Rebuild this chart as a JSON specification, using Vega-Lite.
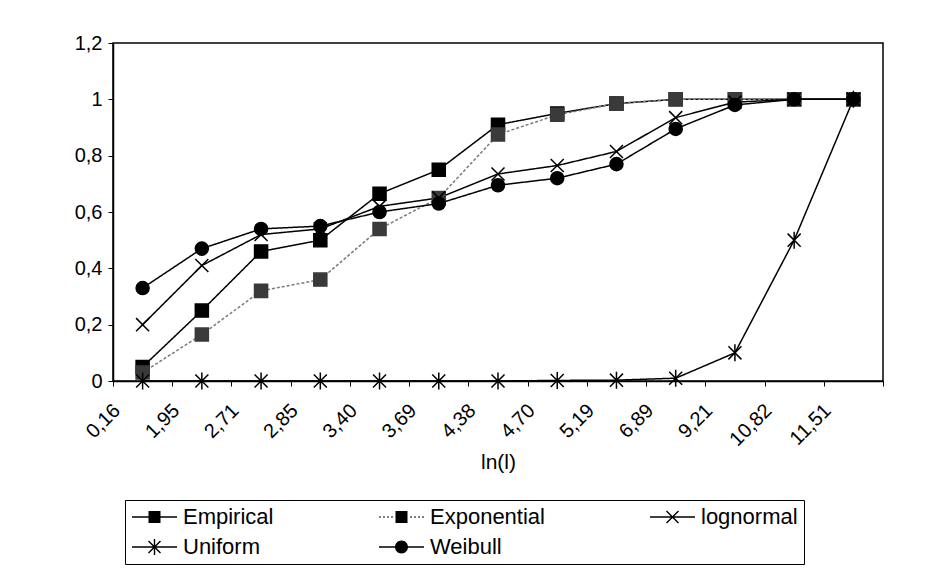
{
  "$schema": "https://vega.github.io/schema/vega-lite/v6.json",
  "width": 770,
  "height": 338,
  "autosize": {"type": "none"},
  "padding": {"left": 113, "top": 43, "right": 56, "bottom": 188},
  "background": "white",
  "config": {
    "font": "Liberation Sans",
    "locale": {"number": {"decimal": ",", "thousands": ".", "grouping": [3], "currency": ["", " €"]}},
    "view": {"stroke": "black", "strokeWidth": 1.5},
    "axis": {"grid": false, "domainColor": "black", "tickColor": "black", "labelColor": "black", "titleColor": "black", "domainWidth": 1.5, "tickWidth": 1, "tickSize": 5, "titleFontWeight": "normal"}
  },
  "data": {"values": [
    {"lbl": "0,16", "series": "Empirical", "v": 0.05},
    {"lbl": "1,95", "series": "Empirical", "v": 0.25},
    {"lbl": "2,71", "series": "Empirical", "v": 0.46},
    {"lbl": "2,85", "series": "Empirical", "v": 0.50},
    {"lbl": "3,40", "series": "Empirical", "v": 0.665},
    {"lbl": "3,69", "series": "Empirical", "v": 0.75},
    {"lbl": "4,38", "series": "Empirical", "v": 0.91},
    {"lbl": "4,70", "series": "Empirical", "v": 0.95},
    {"lbl": "5,19", "series": "Empirical", "v": 0.985},
    {"lbl": "6,89", "series": "Empirical", "v": 1},
    {"lbl": "9,21", "series": "Empirical", "v": 1},
    {"lbl": "10,82", "series": "Empirical", "v": 1},
    {"lbl": "11,51", "series": "Empirical", "v": 1},
    {"lbl": "0,16", "series": "Exponential", "v": 0.03},
    {"lbl": "1,95", "series": "Exponential", "v": 0.165},
    {"lbl": "2,71", "series": "Exponential", "v": 0.32},
    {"lbl": "2,85", "series": "Exponential", "v": 0.36},
    {"lbl": "3,40", "series": "Exponential", "v": 0.54},
    {"lbl": "3,69", "series": "Exponential", "v": 0.65},
    {"lbl": "4,38", "series": "Exponential", "v": 0.875},
    {"lbl": "4,70", "series": "Exponential", "v": 0.945},
    {"lbl": "5,19", "series": "Exponential", "v": 0.985},
    {"lbl": "6,89", "series": "Exponential", "v": 1},
    {"lbl": "9,21", "series": "Exponential", "v": 1},
    {"lbl": "10,82", "series": "Exponential", "v": 1},
    {"lbl": "11,51", "series": "Exponential", "v": 1},
    {"lbl": "0,16", "series": "lognormal", "v": 0.20},
    {"lbl": "1,95", "series": "lognormal", "v": 0.41},
    {"lbl": "2,71", "series": "lognormal", "v": 0.52},
    {"lbl": "2,85", "series": "lognormal", "v": 0.54},
    {"lbl": "3,40", "series": "lognormal", "v": 0.62},
    {"lbl": "3,69", "series": "lognormal", "v": 0.65},
    {"lbl": "4,38", "series": "lognormal", "v": 0.735},
    {"lbl": "4,70", "series": "lognormal", "v": 0.765},
    {"lbl": "5,19", "series": "lognormal", "v": 0.815},
    {"lbl": "6,89", "series": "lognormal", "v": 0.935},
    {"lbl": "9,21", "series": "lognormal", "v": 0.99},
    {"lbl": "10,82", "series": "lognormal", "v": 1},
    {"lbl": "11,51", "series": "lognormal", "v": 1},
    {"lbl": "0,16", "series": "Uniform", "v": 0},
    {"lbl": "1,95", "series": "Uniform", "v": 0},
    {"lbl": "2,71", "series": "Uniform", "v": 0},
    {"lbl": "2,85", "series": "Uniform", "v": 0},
    {"lbl": "3,40", "series": "Uniform", "v": 0},
    {"lbl": "3,69", "series": "Uniform", "v": 0},
    {"lbl": "4,38", "series": "Uniform", "v": 0},
    {"lbl": "4,70", "series": "Uniform", "v": 0.002},
    {"lbl": "5,19", "series": "Uniform", "v": 0.003},
    {"lbl": "6,89", "series": "Uniform", "v": 0.01},
    {"lbl": "9,21", "series": "Uniform", "v": 0.10},
    {"lbl": "10,82", "series": "Uniform", "v": 0.50},
    {"lbl": "11,51", "series": "Uniform", "v": 1},
    {"lbl": "0,16", "series": "Weibull", "v": 0.33},
    {"lbl": "1,95", "series": "Weibull", "v": 0.47},
    {"lbl": "2,71", "series": "Weibull", "v": 0.54},
    {"lbl": "2,85", "series": "Weibull", "v": 0.55},
    {"lbl": "3,40", "series": "Weibull", "v": 0.60},
    {"lbl": "3,69", "series": "Weibull", "v": 0.63},
    {"lbl": "4,38", "series": "Weibull", "v": 0.695},
    {"lbl": "4,70", "series": "Weibull", "v": 0.72},
    {"lbl": "5,19", "series": "Weibull", "v": 0.77},
    {"lbl": "6,89", "series": "Weibull", "v": 0.895},
    {"lbl": "9,21", "series": "Weibull", "v": 0.98},
    {"lbl": "10,82", "series": "Weibull", "v": 1},
    {"lbl": "11,51", "series": "Weibull", "v": 1}
  ]},
  "encoding": {
    "x": {
      "field": "lbl", "type": "ordinal",
      "scale": {"type": "band", "domain": ["0,16","1,95","2,71","2,85","3,40","3,69","4,38","4,70","5,19","6,89","9,21","10,82","11,51"], "paddingInner": 0, "paddingOuter": 0},
      "axis": {"title": "ln(l)", "tickBand": "extent", "labelAngle": -45, "labelFontSize": 20, "labelPadding": 14, "labelOffset": -33, "titleFontSize": 21, "titlePadding": 2}
    },
    "y": {
      "field": "v", "type": "quantitative",
      "scale": {"domain": [0, 1.2], "nice": false, "zero": true},
      "axis": {"title": null, "values": [0, 0.2, 0.4, 0.6, 0.8, 1, 1.2], "format": "~g", "labelFontSize": 20, "labelPadding": 6}
    }
  },
  "layer": [
    {
      "mark": {"type": "line", "strokeWidth": 1.5},
      "encoding": {
        "detail": {"field": "series"},
        "color": {"field": "series", "type": "nominal", "legend": null,
          "scale": {"domain": ["Empirical","Exponential","lognormal","Uniform","Weibull"], "range": ["black","#7a7a7a","black","black","black"]}},
        "strokeDash": {"field": "series", "type": "nominal", "legend": null,
          "scale": {"domain": ["Empirical","Exponential","lognormal","Uniform","Weibull"], "range": [[1,0],[3,2],[1,0],[1,0],[1,0]]}}
      }
    },
    {
      "mark": {"type": "point", "size": 170, "strokeWidth": 1.5, "opacity": 1},
      "encoding": {
        "shape": {"field": "series", "type": "nominal", "legend": null,
          "scale": {"domain": ["Empirical","Exponential","lognormal","Uniform","Weibull"], "range": ["square","square","M-1,-1L1,1M-1,1L1,-1","M-1,-1L1,1M-1,1L1,-1M0,-1.3V1.3","circle"]}},
        "fill": {"field": "series", "type": "nominal", "legend": null,
          "scale": {"domain": ["Empirical","Exponential","lognormal","Uniform","Weibull"], "range": ["black","#3a3a3a","transparent","transparent","black"]}},
        "stroke": {"field": "series", "type": "nominal", "legend": null,
          "scale": {"domain": ["Empirical","Exponential","lognormal","Uniform","Weibull"], "range": ["black","#3a3a3a","black","black","black"]}}
      }
    },
    {
      "transform": [{"filter": "datum.v > 5"}],
      "mark": {"type": "point", "size": 400, "filled": true, "fill": "black"},
      "encoding": {
        "shape": {"field": "series", "type": "nominal",
          "scale": {"domain": ["Empirical","Exponential","lognormal","Uniform","Weibull"], "range": [
            "M-1,-0.075H3.5V0.075H-1ZM0.65,-0.6H1.85V0.6H0.65Z",
            "M-1,-0.06H-0.8V0.06H-1ZM-0.6,-0.06H-0.4V0.06H-0.6ZM-0.2,-0.06H0V0.06H-0.2ZM0.2,-0.06H0.4V0.06H0.2ZM0.65,-0.6H1.85V0.6H0.65ZM2.1,-0.06H2.3V0.06H2.1ZM2.5,-0.06H2.7V0.06H2.5ZM2.9,-0.06H3.1V0.06H2.9ZM3.3,-0.06H3.5V0.06H3.3Z",
            "M-1,-0.075H3.5V0.075H-1ZM0.6,-0.55L0.7,-0.65L1.9,0.55L1.8,0.65ZM0.6,0.55L1.8,-0.65L1.9,-0.55L0.7,0.65Z",
            "M-1,-0.075H3.5V0.075H-1ZM0.6,-0.55L0.7,-0.65L1.9,0.55L1.8,0.65ZM0.6,0.55L1.8,-0.65L1.9,-0.55L0.7,0.65ZM1.18,-0.8H1.32V0.8H1.18Z",
            "M-1,-0.075H3.5V0.075H-1ZM1.9,0A0.65,0.65 0 1 1 0.6,0A0.65,0.65 0 1 1 1.9,0Z"
          ]},
          "legend": {
            "title": null, "orient": "none", "legendX": 12, "legendY": 457,
            "direction": "horizontal", "columns": 3, "strokeColor": "black", "padding": 6,
            "labelFontSize": 22, "labelColor": "black", "labelOffset": 30, "labelLimit": 300,
            "symbolFillColor": "black", "symbolOpacity": 1, "symbolSize": 400,
            "columnPadding": 102, "rowPadding": 8
          }
        }
      }
    }
  ],
  "resolve": {"scale": {"shape": "independent"}, "legend": {"shape": "independent"}}
}
